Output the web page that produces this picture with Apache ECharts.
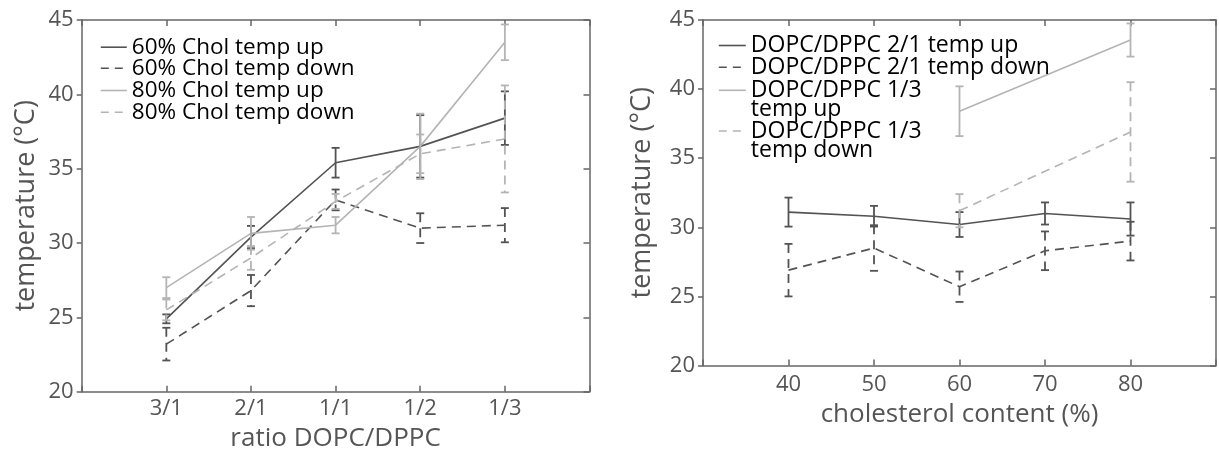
<!DOCTYPE html>
<html>
<head>
<meta charset="utf-8">
<script src="https://cdn.jsdelivr.net/npm/echarts@6/dist/echarts.min.js"></script>
<style>
html,body{margin:0;padding:0;background:#fff;}
#chart{width:1219px;height:457px;}
</style>
</head>
<body>
<div id="chart"></div>
<script>
// ---- Left panel data ----
const ratioLabels = ['3/1', '2/1', '1/1', '1/2', '1/3'];
const chol60Up      = [24.9, 30.4, 35.4, 36.5, 38.4];
const chol60UpErr   = [0.3, 0.75, 1.0, 2.1, 1.8];
const chol60Down    = [23.2, 26.8, 32.9, 31.0, 31.2];
const chol60DownErr = [1.1, 1.05, 0.7, 1.0, 1.15];
const chol80Up      = [27.0, 30.65, 31.2, 36.5, 43.5];
const chol80UpErr   = [0.7, 1.1, 0.55, 2.2, 1.2];
const chol80Down    = [25.5, 29.0, 32.8, 36.0, 37.0];
const chol80DownErr = [0.7, 0.8, 0.5, 1.3, 3.6];

// ---- Right panel data ----
const cholContent = [40, 50, 60, 70, 80];
const r21Up       = [31.1, 30.8, 30.2, 31.0, 30.6];
const r21UpErr    = [1.05, 0.75, 0.9, 0.8, 1.2];
const r21Down     = [26.9, 28.5, 25.7, 28.3, 29.0];
const r21DownErr  = [1.9, 1.65, 1.1, 1.4, 1.4];
const r13Up       = [null, null, 38.4, null, 43.55];
const r13UpErr    = [null, null, 1.8, null, 1.2];
const r13Down     = [null, null, 31.2, null, 36.9];
const r13DownErr  = [null, null, 1.2, null, 3.6];

// ---- Names ----
const leftNames = ['60% Chol temp up', '60% Chol temp down', '80% Chol temp up', '80% Chol temp down'];
const rightNames = ['DOPC/DPPC 2/1 temp up', 'DOPC/DPPC 2/1 temp down', 'DOPC/DPPC 1/3 temp up', 'DOPC/DPPC 1/3 temp down'];

const DARK = '#535353';
const LIGHT = '#b4b4b4';
const AXIS = '#666666';
const FONT = 'Open Sans';
const DASH = [9, 6];

function pts(xs, ys) {
  return xs.map((x, i) => [x, ys[i]]);
}
function errPts(xs, ys, es) {
  const out = [];
  xs.forEach((x, i) => {
    if (ys[i] == null || es[i] == null) return;
    out.push([x, ys[i] - es[i], ys[i] + es[i]]);
  });
  return out;
}
const leftX = ratioLabels.map((_, i) => i + 1);

function lineSeries(name, xs, ys, color, dashed, gi) {
  return {
    type: 'line', name: name,
    xAxisIndex: gi * 2, yAxisIndex: gi * 2,
    data: pts(xs, ys).filter(p => p[1] != null),
    symbol: 'none', connectNulls: true,
    lineStyle: { color: color, width: 1.6, type: dashed ? DASH : 'solid' },
    itemStyle: { color: color },
    z: 3
  };
}
function errSeries(xs, ys, es, color, dashed, gi) {
  return {
    type: 'custom',
    xAxisIndex: gi * 2, yAxisIndex: gi * 2,
    data: errPts(xs, ys, es),
    encode: { x: 0, y: [1, 2] },
    silent: true,
    z: 4,
    renderItem: function (params, api) {
      const x = api.value(0);
      const lo = api.coord([x, api.value(1)]);
      const hi = api.coord([x, api.value(2)]);
      const w = 4;
      const base = { stroke: color, lineWidth: 1.8, fill: null };
      return {
        type: 'group',
        children: [
          { type: 'line', shape: { x1: hi[0], y1: hi[1], x2: lo[0], y2: lo[1] },
            style: Object.assign({}, base, dashed ? { lineDash: DASH } : {}) },
          { type: 'line', shape: { x1: hi[0] - w, y1: hi[1], x2: hi[0] + w, y2: hi[1] }, style: base },
          { type: 'line', shape: { x1: lo[0] - w, y1: lo[1], x2: lo[0] + w, y2: lo[1] }, style: base }
        ]
      };
    }
  };
}

const tickLabel = { color: '#555', fontFamily: FONT, fontSize: 22 };
const axisLine = { show: true, onZero: false, lineStyle: { color: AXIS, width: 1.5 } };

function yAxes(gi, nameGap) {
  return [
    {
      type: 'value', gridIndex: gi, position: 'left', min: 20, max: 45, interval: 5,
      axisLine: axisLine,
      axisTick: { show: true, inside: false, length: 5, lineStyle: { color: AXIS, width: 1.5 } },
      axisLabel: Object.assign({ margin: 8 }, tickLabel),
      splitLine: { show: false },
      name: 'temperature (°C)', nameLocation: 'middle', nameGap: nameGap,
      nameTextStyle: { color: '#555', fontFamily: FONT, fontSize: 27 }
    },
    {
      type: 'value', gridIndex: gi, position: 'right', min: 20, max: 45, interval: 5,
      axisLine: axisLine,
      axisTick: { show: true, inside: true, length: 6, lineStyle: { color: AXIS, width: 1.5 } },
      axisLabel: { show: false }, splitLine: { show: false }
    }
  ];
}

const option = {
  backgroundColor: '#fff',
  animation: false,
  grid: [
    { left: 81.7, right: 1219 - 589.5, top: 20, bottom: 457 - 391.7 },
    { left: 703, right: 1219 - 1217.7, top: 20, bottom: 457 - 365.5 }
  ],
  xAxis: [
    {
      type: 'value', gridIndex: 0, position: 'bottom', min: 0, max: 6, interval: 1,
      axisLine: axisLine,
      axisTick: { show: true, inside: true, length: 6, lineStyle: { color: AXIS, width: 1.5 } },
      axisLabel: Object.assign({ margin: 6, formatter: v => ratioLabels[v - 1] || '' }, tickLabel),
      splitLine: { show: false },
      name: 'ratio DOPC/DPPC', nameLocation: 'middle', nameGap: 34,
      nameTextStyle: { color: '#555', fontFamily: FONT, fontSize: 26 }
    },
    {
      type: 'value', gridIndex: 0, position: 'top', min: 0, max: 6, interval: 1,
      axisLine: axisLine,
      axisTick: { show: true, inside: true, length: 6, lineStyle: { color: AXIS, width: 1.5 } },
      axisLabel: { show: false }, splitLine: { show: false }
    },
    {
      type: 'value', gridIndex: 1, position: 'bottom', min: 30, max: 90, interval: 10,
      axisLine: axisLine,
      axisTick: { show: true, inside: true, length: 6, lineStyle: { color: AXIS, width: 1.5 } },
      axisLabel: Object.assign({ margin: 8, formatter: v => cholContent.indexOf(v) >= 0 ? String(v) : '' }, tickLabel),
      splitLine: { show: false },
      name: 'cholesterol content (%)', nameLocation: 'middle', nameGap: 36,
      nameTextStyle: { color: '#555', fontFamily: FONT, fontSize: 26 }
    },
    {
      type: 'value', gridIndex: 1, position: 'top', min: 30, max: 90, interval: 10,
      axisLine: axisLine,
      axisTick: { show: true, inside: true, length: 6, lineStyle: { color: AXIS, width: 1.5 } },
      axisLabel: { show: false }, splitLine: { show: false }
    }
  ],
  yAxis: yAxes(0, 42).concat(yAxes(1, 47)),
  legend: [],
  series: [
    lineSeries(leftNames[0], leftX, chol60Up, DARK, false, 0),
    errSeries(leftX, chol60Up, chol60UpErr, DARK, false, 0),
    lineSeries(leftNames[1], leftX, chol60Down, DARK, true, 0),
    errSeries(leftX, chol60Down, chol60DownErr, DARK, true, 0),
    lineSeries(leftNames[2], leftX, chol80Up, LIGHT, false, 0),
    errSeries(leftX, chol80Up, chol80UpErr, LIGHT, false, 0),
    lineSeries(leftNames[3], leftX, chol80Down, LIGHT, true, 0),
    errSeries(leftX, chol80Down, chol80DownErr, LIGHT, true, 0),

    lineSeries(rightNames[0], cholContent, r21Up, DARK, false, 1),
    errSeries(cholContent, r21Up, r21UpErr, DARK, false, 1),
    lineSeries(rightNames[1], cholContent, r21Down, DARK, true, 1),
    errSeries(cholContent, r21Down, r21DownErr, DARK, true, 1),
    lineSeries(rightNames[2], cholContent, r13Up, LIGHT, false, 1),
    errSeries(cholContent, r13Up, r13UpErr, LIGHT, false, 1),
    lineSeries(rightNames[3], cholContent, r13Down, LIGHT, true, 1),
    errSeries(cholContent, r13Down, r13DownErr, LIGHT, true, 1)
  ]
};

// legends: one per entry so each can be placed like the original
function addLegend(name, color, dashed, left, center, wide, fs, multi) {
  const lh = multi ? 19 : 22;
  const lines = multi ? 3 : 1;
  option.legend.push({
    data: [name],
    orient: 'vertical', left: left, top: center - lines * lh / 2,
    padding: 0, itemWidth: wide, itemHeight: 12, selectedMode: false,
    itemStyle: { opacity: 0 },
    lineStyle: { color: color, width: 1.6, type: dashed ? [8, 6] : 'solid' },
    formatter: multi ? (n => {
      const cut = n.lastIndexOf(' temp');
      return '\n' + n.slice(0, cut) + '\n' + n.slice(cut + 1);
    }) : undefined,
    textStyle: { color: '#000', fontFamily: FONT, fontSize: fs, lineHeight: lh }
  });
}
const legendColors = [DARK, DARK, LIGHT, LIGHT];
const legendDashed = [false, true, false, true];
[46.7, 67.7, 90, 111.7].forEach((c, i) =>
  addLegend(leftNames[i], legendColors[i], legendDashed[i], 100, c, 26, 22.5, false));
addLegend(rightNames[0], DARK, false, 718, 45, 27, 23, false);
addLegend(rightNames[1], DARK, true, 718, 66.7, 27, 23, false);
addLegend(rightNames[2], LIGHT, false, 718, 88.3, 27, 23, true);
addLegend(rightNames[3], LIGHT, true, 718, 129, 27, 23, true);

const chart = echarts.init(document.getElementById('chart'), null, { renderer: 'canvas' });
chart.setOption(option);
</script>
</body>
</html>
